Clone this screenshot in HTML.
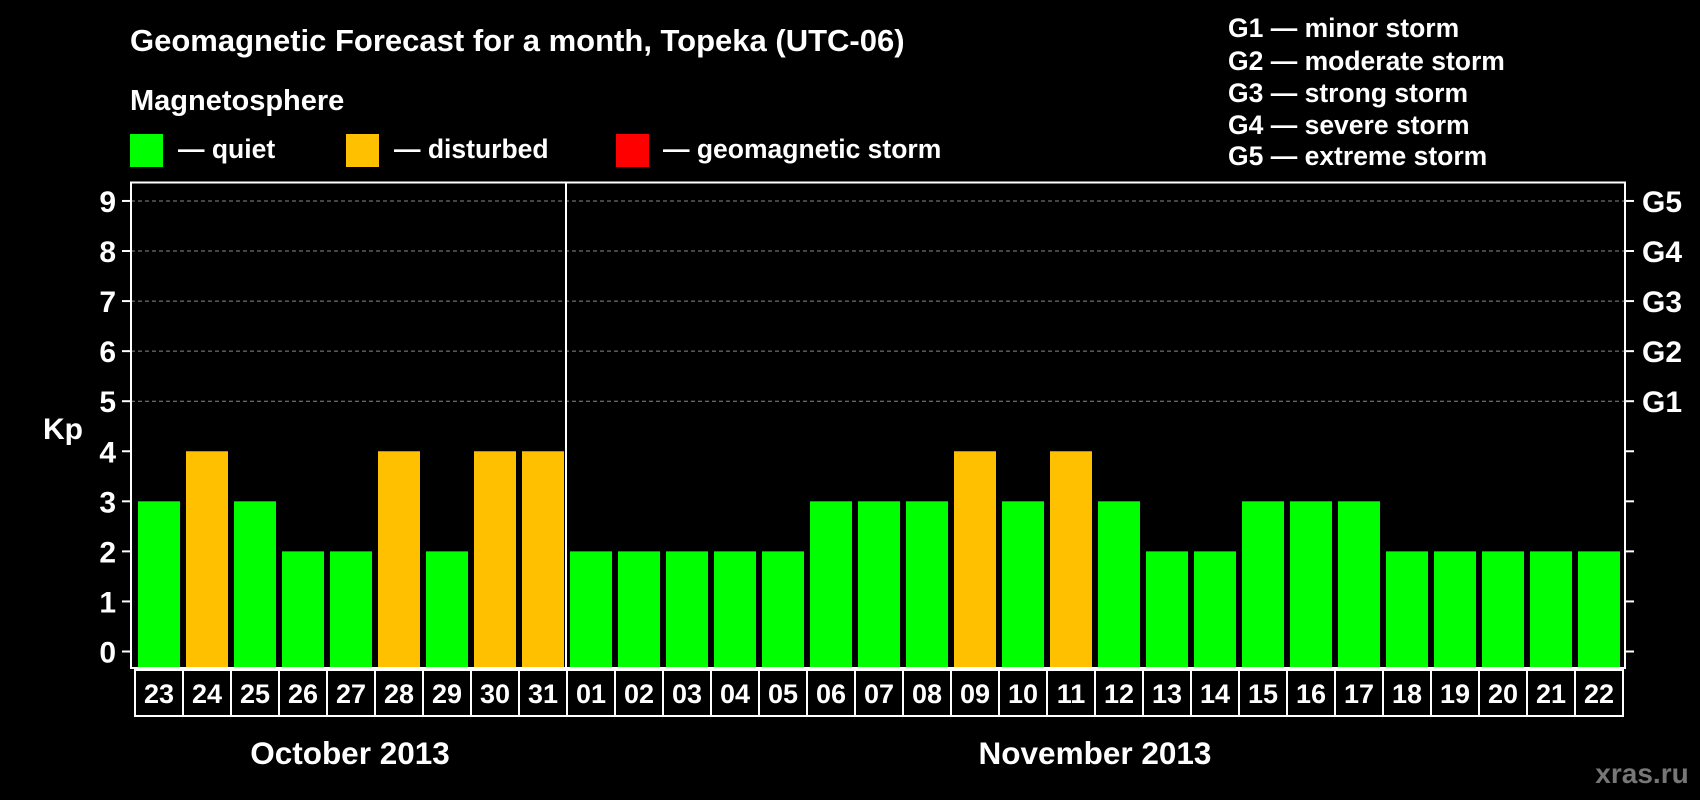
<!DOCTYPE html>
<html><head><meta charset="utf-8"><style>
html,body{margin:0;padding:0;background:#000;}
svg{display:block;font-family:"Liberation Sans",Arial,sans-serif;font-weight:bold;}
</style></head><body>
<svg id="chart" width="1700" height="800" viewBox="0 0 1700 800">
<rect width="1700" height="800" fill="#000"/>
<text x="130" y="51" fill="#fff" font-size="31">Geomagnetic Forecast for a month, Topeka (UTC-06)</text>
<text x="130" y="110" fill="#fff" font-size="29">Magnetosphere</text>
<g><rect x="130" y="134" width="33" height="33" fill="#00ff00"/><text x="178" y="158" fill="#fff" font-size="26.5">— quiet</text></g>
<g><rect x="346" y="134" width="33" height="33" fill="#ffc000"/><text x="394" y="158" fill="#fff" font-size="26.5">— disturbed</text></g>
<g><rect x="616" y="134" width="33" height="33" fill="#ff0000"/><text x="663" y="158" fill="#fff" font-size="26.5">— geomagnetic storm</text></g>
<g fill="#fff" font-size="26.5">
<text x="1228" y="37">G1 — minor storm</text>
<text x="1228" y="70">G2 — moderate storm</text>
<text x="1228" y="102">G3 — strong storm</text>
<text x="1228" y="134">G4 — severe storm</text>
<text x="1228" y="165">G5 — extreme storm</text>
</g>
<text x="43" y="439" fill="#fff" font-size="30">Kp</text>
<g id="plot"></g>
<text x="350" y="764" fill="#fff" font-size="31.5" text-anchor="middle">October 2013</text>
<text x="1095" y="764" fill="#fff" font-size="31.5" text-anchor="middle">November 2013</text>
<text x="1642" y="783" fill="#777" font-size="28" text-anchor="middle">xras.ru</text>
</svg>
<script>
const days = ["23","24","25","26","27","28","29","30","31","01","02","03","04","05","06","07","08","09","10","11","12","13","14","15","16","17","18","19","20","21","22"];
const kpValues = [3,4,3,2,2,4,2,4,4,2,2,2,2,2,3,3,3,4,3,4,3,2,2,3,3,3,2,2,2,2,2];
const yTicks = [0,1,2,3,4,5,6,7,8,9];
const gLabels = ["G1","G2","G3","G4","G5"];
const gLevels = [5,6,7,8,9];
const monthSplit = 9;

const NS = "http://www.w3.org/2000/svg";
const plot = document.getElementById("plot");
const plotLeft = 131, plotRight = 1625, plotTop = 182.5, plotBottom = 668;
const yZero = 651.5, unit = 50.06;
const xStart = 135, step = 48, barW = 42;
const yScale = v => yZero - v * unit;
const xScale = i => xStart + i * step;
function mk(tag, attrs) { const e = document.createElementNS(NS, tag); for (const k in attrs) e.setAttribute(k, attrs[k]); plot.appendChild(e); return e; }

yTicks.forEach(v => {
  const y = yScale(v);
  if (v >= 5) {
    const g = mk("line", {x1: plotLeft, x2: plotRight, y1: y, y2: y, stroke: "#888", "stroke-width": 1, "stroke-dasharray": "4 3"});
    
    
  }
  const t1 = mk("line", {x1: 122, x2: plotLeft, y1: y, y2: y, stroke: "#fff", "stroke-width": 2});
  
  
  const t2 = mk("line", {x1: plotRight, x2: plotRight + 9, y1: y, y2: y, stroke: "#fff", "stroke-width": 2});
  
  
  const lb = mk("text", {x: 116, y: y + 11, fill: "#fff", "font-size": 30, "text-anchor": "end"});
  lb.textContent = v;
  
  
});
gLabels.forEach((g, i) => {
  const t = mk("text", {x: 1642, y: yScale(gLevels[i]) + 11, fill: "#fff", "font-size": 30});
  t.textContent = g;
  
  
});

kpValues.forEach((v, i) => {
  const color = v >= 5 ? "#ff0000" : (v >= 4 ? "#ffc000" : "#00ff00");
  const b = mk("rect", {x: xScale(i) + 3, y: yScale(v), width: barW, height: plotBottom - 1 - yScale(v), fill: color});
  
  
  const box = mk("rect", {x: xScale(i), y: 670, width: step, height: 46, fill: "none", stroke: "#fff", "stroke-width": 2});
  
  
  const t = mk("text", {x: xScale(i) + step / 2, y: 703, fill: "#fff", "font-size": 27, "text-anchor": "middle"});
  t.textContent = days[i];
  
  
});

const frame = mk("rect", {x: plotLeft, y: plotTop, width: plotRight - plotLeft, height: plotBottom - plotTop, fill: "none", stroke: "#fff", "stroke-width": 2});


const dx = xScale(monthSplit) - 1;
const div = mk("line", {x1: dx, x2: dx, y1: plotTop, y2: plotBottom, stroke: "#fff", "stroke-width": 2});


</script>
</body></html>
